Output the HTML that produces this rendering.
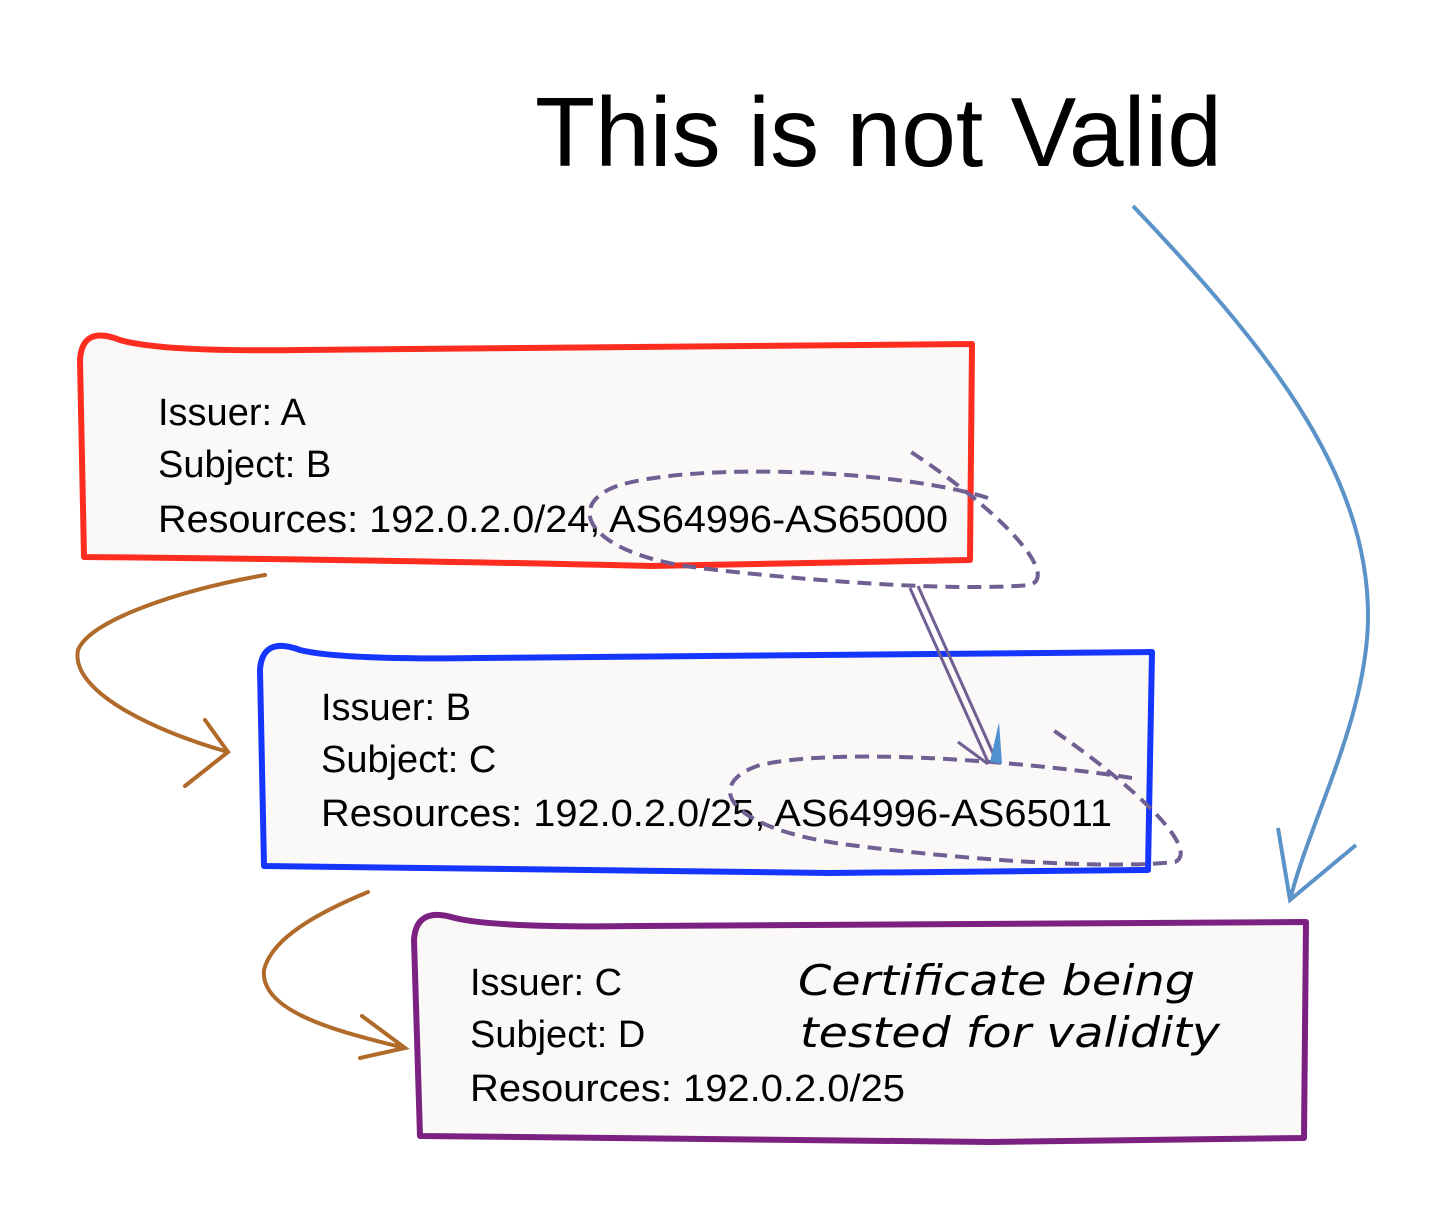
<!DOCTYPE html>
<html><head><meta charset="utf-8"><style>
html,body{margin:0;padding:0;background:#fff;}
svg{display:block;}
.t{font-family:"Liberation Sans",sans-serif;font-size:38px;fill:#000;}
.h{font-family:"DejaVu Sans","Liberation Sans",sans-serif;font-style:italic;font-size:42px;fill:#000;}
</style></head><body>
<svg width="1430" height="1216" viewBox="0 0 1430 1216" xmlns="http://www.w3.org/2000/svg">
<text x="535" y="166" font-family="Liberation Sans, sans-serif" font-size="98" textLength="687" lengthAdjust="spacingAndGlyphs">This is not Valid</text>

<!-- blue long arrow -->
<path d="M1133 206 C1260 340, 1370 470, 1368 620 C1366 720, 1310 820, 1290 900" fill="none" stroke="#5b93c8" stroke-width="4"/>
<path d="M1278 828 L1290 900 L1356 845" fill="none" stroke="#5b93c8" stroke-width="4"/>

<!-- red box -->
<path d="M84 557 L80 360 Q82 325 120 340 Q160 352 300 350 L972 344 L970 560 L650 566 Q400 560 84 557 Z" fill="#faf9f8" stroke="#ff2d1f" stroke-width="6" stroke-linejoin="round"/>
<text class="t" x="158" y="425">Issuer: A</text>
<text class="t" x="158" y="477">Subject: B</text>
<text class="t" x="158" y="532" textLength="790" lengthAdjust="spacingAndGlyphs">Resources: 192.0.2.0/24, AS64996-AS65000</text>

<!-- blue box -->
<path d="M264 866 L260 670 Q262 636 300 650 Q340 660 480 658 L1152 652 L1148 870 L830 873 Q580 870 264 866 Z" fill="#faf9f8" stroke="#1536ff" stroke-width="6" stroke-linejoin="round"/>
<text class="t" x="321" y="720">Issuer: B</text>
<text class="t" x="321" y="772">Subject: C</text>
<text class="t" x="321" y="826" textLength="791" lengthAdjust="spacingAndGlyphs">Resources: 192.0.2.0/25, AS64996-AS65011</text>

<!-- purple box -->
<path d="M420 1136 L414 940 Q416 906 455 918 Q495 928 640 926 L1306 922 L1304 1138 L990 1142 Q740 1140 420 1136 Z" fill="#faf9f8" stroke="#7a2182" stroke-width="6" stroke-linejoin="round"/>
<text class="t" x="470" y="995">Issuer: C</text>
<text class="t" x="470" y="1047">Subject: D</text>
<text class="t" x="470" y="1101" textLength="435" lengthAdjust="spacingAndGlyphs">Resources: 192.0.2.0/25</text>
<text class="h" x="798" y="995" textLength="397" lengthAdjust="spacingAndGlyphs">Certificate being</text>
<text class="h" x="800" y="1047" textLength="420" lengthAdjust="spacingAndGlyphs">tested for validity</text>

<!-- dashed ellipses -->
<g fill="none" stroke="#6f5f92" stroke-width="4" stroke-dasharray="14,8">
<path d="M988 498 C900 470, 700 462, 620 485 C560 505, 590 555, 700 568 C800 580, 950 592, 1030 585 C1060 575, 1000 510, 908 450"/>
<path d="M1132 778 C1050 765, 850 745, 760 765 C700 785, 730 830, 850 845 C950 858, 1100 870, 1175 862 C1200 850, 1140 790, 1053 730"/>
</g>
<!-- double arrow -->
<g stroke="#6f5f92" stroke-width="3" fill="none">
<path d="M910 588 L988 762"/>
<path d="M918 586 L996 760"/>
<path d="M958 742 L988 764"/>
</g>
<path d="M990 762 L999 722 L1002 764 Z" fill="#4f90d0"/>

<!-- brown arrows -->
<g fill="none" stroke="#b06a2a" stroke-width="4" stroke-linecap="round">
<path d="M265 575 C180 590, 90 620, 78 650 C70 690, 150 730, 228 752"/>
<path d="M205 720 L228 752 L185 786"/>
<path d="M368 892 C300 920, 270 945, 264 970 C260 1010, 330 1030, 405 1048"/>
<path d="M362 1016 L405 1048 L360 1058"/>
</g>
</svg>
</body></html>
